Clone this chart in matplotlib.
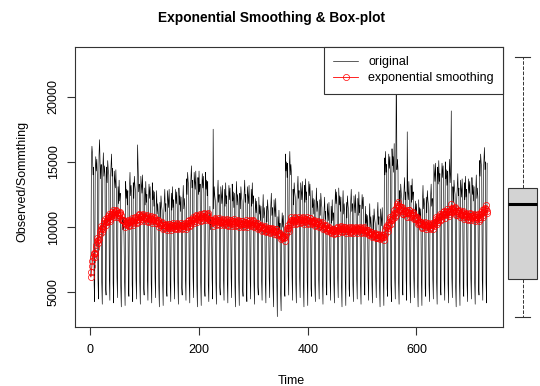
import numpy as np
import pandas as pd
import matplotlib
matplotlib.use("Agg")
import matplotlib.pyplot as plt

plt.rcParams['font.family'] = ['Liberation Sans', 'DejaVu Sans']

# daily observations, one row per week (Sun .. Sat), last row partial
observed = [
    6200, 15100, 16200, 15600, 14000, 14600, 5600,
    4300, 14100, 15400, 14300, 15200, 13900, 6100,
    4500, 15500, 16700, 14900, 13700, 14800, 5800,
    4100, 14400, 15700, 13900, 14700, 14000, 5400,
    4800, 14600, 13400, 15100, 14400, 14000, 6000,
    4400, 13600, 14700, 15600, 13900, 14500, 5700,
    4200, 14300, 13600, 13000, 14400, 12700, 6200,
    4600, 13100, 11800, 13600, 12000, 12600, 5500,
    3900, 9600, 10900, 9800, 10700, 9400, 5900,
    4000, 13500, 12200, 12900, 11700, 12800, 5300,
    4700, 12900, 14200, 12400, 13200, 12500, 5600,
    4300, 13400, 12200, 13900, 13200, 12800, 6100,
    4500, 12400, 16300, 14400, 12700, 13300, 5800,
    4100, 13900, 13200, 12600, 14000, 12300, 5400,
    4800, 13000, 11700, 13500, 11900, 12500, 6000,
    4400, 12000, 13300, 12200, 13100, 11800, 5700,
    4200, 13400, 12100, 12800, 11600, 12700, 6200,
    4600, 11500, 12800, 11000, 11800, 11100, 5500,
    3900, 11900, 10700, 12400, 11700, 11300, 5900,
    4000, 10900, 12000, 12900, 11200, 11800, 5300,
    4700, 12800, 12100, 11500, 12900, 11200, 5600,
    4300, 12600, 11300, 13100, 11500, 12100, 6100,
    4500, 11600, 12900, 11800, 12700, 11400, 5800,
    4100, 13000, 11700, 12400, 11200, 12300, 5400,
    4800, 11900, 13200, 11400, 12200, 11500, 6000,
    4400, 13700, 12500, 14200, 13500, 13100, 5700,
    4200, 12700, 13800, 14700, 13000, 13600, 6200,
    4600, 14200, 13500, 12900, 14300, 12600, 5500,
    3900, 13800, 12500, 14300, 12700, 13300, 5900,
    4000, 12800, 14100, 13000, 13900, 12600, 5300,
    4700, 14200, 12900, 13600, 12400, 13500, 5600,
    4300, 10300, 11600, 9800, 10600, 9900, 6100,
    4500, 17500, 11400, 13100, 12400, 12000, 5800,
    4100, 11600, 12700, 13600, 11900, 12500, 5400,
    4800, 13100, 12400, 11800, 13200, 11500, 6000,
    4400, 12900, 11600, 13400, 11800, 12400, 5700,
    4200, 11900, 13200, 12100, 13000, 11700, 6200,
    4600, 13300, 12000, 12700, 11500, 12600, 5500,
    3900, 12200, 13500, 11700, 12500, 11800, 5900,
    4000, 12600, 11400, 13100, 12400, 12000, 5300,
    4700, 11600, 12700, 13600, 11900, 12500, 5600,
    4300, 13100, 12400, 11800, 13200, 11500, 6100,
    4500, 12900, 11600, 13400, 11800, 12400, 5800,
    4100, 10900, 12200, 11100, 12000, 10700, 5400,
    4800, 12300, 11000, 11700, 10500, 11600, 6000,
    4400, 11200, 12500, 10700, 11500, 10800, 5700,
    4200, 11600, 10400, 12100, 11400, 11000, 6200,
    4600, 10600, 11700, 12600, 10900, 11500, 5500,
    3900, 12100, 11400, 10800, 12200, 10500, 5900,
    3150, 10800, 9500, 11300, 9700, 10300, 5000,
    3600, 9800, 11100, 10000, 10900, 9600, 5100,
    4700, 15600, 14300, 15000, 13800, 14900, 6300,
    4800, 14500, 15800, 14000, 14800, 14100, 6400,
    4400, 12900, 11700, 13400, 12700, 12300, 5700,
    4200, 11900, 13000, 13900, 12200, 12800, 6200,
    4600, 13400, 12700, 12100, 13500, 11800, 5500,
    3900, 13200, 11900, 13700, 12100, 12700, 5900,
    4000, 12200, 13500, 12400, 13300, 12000, 5300,
    4700, 12800, 11500, 12200, 11000, 12100, 5600,
    4300, 11700, 13000, 11200, 12000, 11300, 6100,
    4500, 12100, 10900, 12600, 11900, 11500, 5800,
    4100, 10300, 11400, 12300, 10600, 11200, 5400,
    4800, 11800, 11100, 10500, 11900, 10200, 6000,
    4400, 11600, 10300, 12100, 10500, 11100, 5700,
    4200, 11600, 12900, 11800, 12700, 11400, 6200,
    4600, 13000, 11700, 12400, 11200, 12300, 5500,
    3900, 11500, 12800, 11000, 11800, 11100, 5900,
    4000, 11900, 10700, 12400, 11700, 11300, 5300,
    4700, 10900, 12000, 12900, 11200, 11800, 5600,
    4300, 12400, 11700, 11100, 12500, 10800, 6100,
    4500, 12200, 10900, 12700, 11100, 11700, 5800,
    4100, 11200, 12500, 11400, 12300, 11000, 5400,
    4800, 11600, 10300, 11000, 9800, 10900, 6000,
    4400, 10500, 11800, 10000, 10800, 10100, 5700,
    4200, 10900, 9700, 11400, 10700, 10300, 6200,
    4600, 9900, 11000, 11900, 10200, 10800, 5500,
    3900, 11400, 10700, 10100, 11500, 9800, 5900,
    4000, 15300, 14000, 15800, 14200, 14800, 5300,
    4700, 14300, 15600, 14500, 15400, 14100, 5600,
    4300, 16000, 14700, 15400, 14200, 16400, 6100,
    4500, 14900, 23000, 14400, 15200, 14500, 5800,
    4100, 12800, 11600, 13300, 12600, 12200, 5400,
    4800, 11800, 12900, 13800, 12100, 12700, 6000,
    4400, 17300, 12700, 12100, 13500, 11800, 5700,
    4200, 13200, 11900, 13700, 12100, 12700, 6200,
    4600, 10700, 12000, 10900, 11800, 10500, 5500,
    3900, 12100, 10800, 11500, 10300, 11400, 5900,
    4000, 11900, 13200, 11400, 12200, 11500, 5300,
    4700, 12300, 11100, 12800, 12100, 11700, 5600,
    4300, 11300, 12400, 13300, 11600, 12200, 6100,
    4500, 14800, 14100, 13500, 14900, 13200, 5800,
    4100, 14600, 13300, 15100, 13500, 14100, 5400,
    4800, 13600, 14900, 13800, 14700, 13400, 6000,
    4400, 15000, 13700, 14400, 13200, 14300, 5700,
    4200, 13900, 15200, 13400, 14200, 18900, 6200,
    4600, 13100, 11900, 13600, 12900, 12500, 5500,
    3900, 12100, 13200, 14100, 12400, 13000, 5900,
    4000, 13600, 12900, 12300, 13700, 12000, 5300,
    4700, 13400, 12100, 13900, 12300, 12900, 5600,
    4300, 12400, 13700, 12600, 13500, 12200, 6100,
    4500, 13800, 12500, 13200, 12000, 13100, 5800,
    4100, 12700, 14000, 12200, 13000, 12300, 5400,
    4800, 15100, 13900, 15600, 14900, 14500, 6000,
    4400, 14100, 15200, 16100, 14400, 15000, 5700,
    4200, 14900,
]
alpha = 0.045  # smoothing parameter

series = pd.Series(observed, index=np.arange(1, len(observed) + 1), dtype=float)
smooth = series.ewm(alpha=alpha, adjust=False).mean()

fig = plt.figure(figsize=(5.4, 3.86), dpi=100)
ax = fig.add_axes([75 / 540, 1 - 327 / 386, 428 / 540, 280 / 386])
bx = fig.add_axes([505 / 540, 1 - 327 / 386, 35 / 540, 280 / 386], sharey=ax)

ax.plot(series.index, series.values, color='black', lw=0.45, label='original')
ax.plot(smooth.index, smooth.values, color='red', lw=0.6, marker='o',
        markersize=4.4, markerfacecolor='none', markeredgewidth=0.5,
        label='exponential smoothing')

pad_x = 0.04 * (len(observed) - 1)
ax.set_xlim(1 - pad_x, len(observed) + pad_x)
lo, hi = min(observed), max(observed)
ax.set_ylim(lo - 0.04 * (hi - lo), hi + 0.04 * (hi - lo))
ax.set_xticks([0, 200, 400, 600])
ax.set_yticks([5000, 10000, 15000, 20000])
ax.tick_params(direction='out', length=6, width=0.8, labelsize=9, color='#333333')
ax.tick_params(axis='x', pad=6)
ax.tick_params(axis='y', pad=5)
for lab in ax.get_yticklabels():
    lab.set_rotation(90)
    lab.set_va('center')
for sp in ax.spines.values():
    sp.set_linewidth(0.8)
    sp.set_color('#333333')

leg = ax.legend(loc='upper right', borderaxespad=0, fancybox=False,
                edgecolor='#333333', framealpha=1, fontsize=9,
                handlelength=2.0, handletextpad=0.8, labelspacing=0.3,
                borderpad=0.75)
leg.get_frame().set_linewidth(0.8)

bx.boxplot(observed, positions=[1], widths=0.8, patch_artist=True,
           capwidths=0.41,
           boxprops=dict(facecolor='#D3D3D3', edgecolor='#333333', linewidth=0.8),
           medianprops=dict(color='black', linewidth=2.2),
           whiskerprops=dict(color='#333333', linestyle='--', linewidth=0.7),
           capprops=dict(color='#333333', linewidth=0.8),
           flierprops=dict(marker='o', markerfacecolor='none', markersize=4))
bx.set_xlim(0.517, 1.483)
bx.axis('off')

fig.text(0.503, 1 - 18 / 386, 'Exponential Smoothing & Box-plot',
         ha='center', va='center', fontsize=9.9, fontweight='bold')
fig.text(291 / 540, 1 - 381 / 386, 'Time', ha='center', va='center', fontsize=9)
fig.text(22 / 540, 1 - 181 / 386, 'Observed/Sommthing', ha='center', va='center',
         rotation=90, fontsize=9)

fig.savefig('out.png', dpi=100)
